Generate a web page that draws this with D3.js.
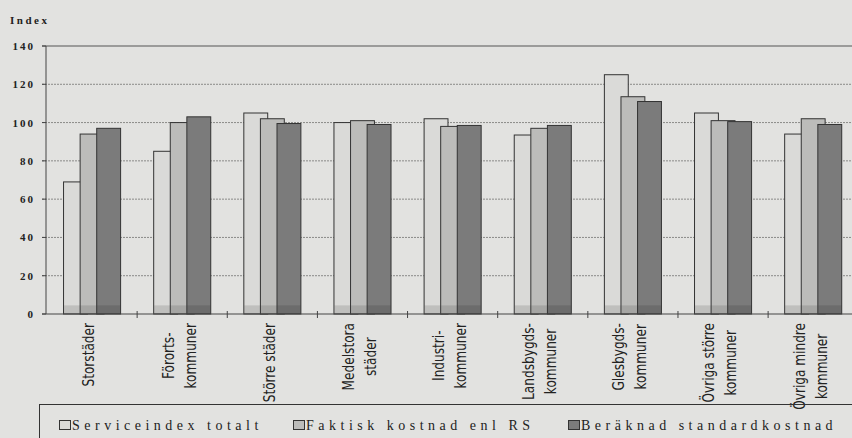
<!DOCTYPE html>
<html>
<head>
<meta charset="utf-8">
<script src="https://cdn.jsdelivr.net/npm/d3@7"></script>
<style>
  html, body { margin: 0; padding: 0; background: #e2e2e0; }
  svg { display: block; }
</style>
</head>
<body>
<div id="chart"></div>
<script>
// ---- data ----
const categories = [
  "Storstäder",
  "Förorts-\nkommuner",
  "Större städer",
  "Medelstora\nstäder",
  "Industri-\nkommuner",
  "Landsbygds-\nkommuner",
  "Glesbygds-\nkommuner",
  "Övriga större\nkommuner",
  "Övriga mindre\nkommuner"
];
const seriesNames = ["Serviceindex totalt", "Faktisk kostnad enl RS", "Beräknad standardkostnad"];
const serviceindexTotalt   = [69, 85, 105, 100, 102, 93.5, 125, 105, 94];
const faktiskKostnad       = [94, 100, 102, 101, 98, 97, 113.5, 101, 102];
const beraknadStandard     = [97, 103, 99.5, 99, 98.5, 98.5, 111, 100.5, 99];
const yTicks = [0, 20, 40, 60, 80, 100, 120, 140];
const yTitle = "Index";

// ---- layout / style ----
const W = 852, H = 438;
const fills = ["#dadad8", "#bcbcba", "#7b7b7b"];
const series = [serviceindexTotalt, faktiskKostnad, beraknadStandard];

const svg = d3.select("#chart").append("svg")
  .attr("width", W).attr("height", H)
  .attr("font-family", "'Liberation Serif', 'DejaVu Serif', serif");

svg.append("rect").attr("width", W).attr("height", H).attr("fill", "#e2e2e0");

const y = d3.scaleLinear().domain([0, 140]).range([314, 46]);
const x = d3.scaleBand().domain(categories).range([47, 47 + 9 * 90.14]).paddingInner(0).paddingOuter(0);

// gridlines
svg.append("g").selectAll("line").data(yTicks.filter(d => d > 0)).join("line")
  .attr("x1", 42).attr("x2", W)
  .attr("y1", d => y(d)).attr("y2", d => y(d))
  .attr("stroke", d => d === 140 ? "#555" : "#8a8a88")
  .attr("stroke-width", 1)
  .attr("stroke-dasharray", d => d === 140 ? null : "2,1");

// y tick labels
svg.append("g").selectAll("text").data(yTicks).join("text")
  .attr("x", 35).attr("y", d => y(d) + 4)
  .attr("text-anchor", "end")
  .attr("font-size", 11).attr("font-weight", "bold")
  .attr("letter-spacing", 2)
  .attr("fill", "#222")
  .text(d => d);

svg.append("text").attr("x", 10).attr("y", 24)
  .attr("font-size", 11).attr("font-weight", "bold").attr("letter-spacing", 2.5)
  .attr("fill", "#222").text(yTitle);

// bars
const bw = x.bandwidth() * 0.265;
const step = x.bandwidth() * 0.184;
const groupW = 2 * step + bw;
const baseBand = 4.5;

series.forEach((vals, si) => {
  const g = svg.append("g");
  g.selectAll("rect.bar").data(categories).join("rect")
    .attr("class", "bar")
    .attr("x", (c) => x(c) + x.bandwidth() / 2 - groupW / 2 + si * step)
    .attr("y", (c, i) => y(vals[i]))
    .attr("width", bw)
    .attr("height", (c, i) => y(0) - y(vals[i]))
    .attr("fill", fills[si])
    .attr("stroke", "#333")
    .attr("stroke-width", 1);
  g.selectAll("rect.base").data(categories).join("rect")
    .attr("class", "base")
    .attr("x", (c) => x(c) + x.bandwidth() / 2 - groupW / 2 + si * step + 0.5)
    .attr("y", y(baseBand))
    .attr("width", bw - 1)
    .attr("height", y(0) - y(baseBand))
    .attr("fill", "#000").attr("opacity", 0.12);
});

// axes lines
svg.append("line").attr("x1", 46).attr("x2", 46).attr("y1", y(140)).attr("y2", y(0))
  .attr("stroke", "#444");
svg.append("line").attr("x1", 42).attr("x2", W).attr("y1", y(0)).attr("y2", y(0))
  .attr("stroke", "#444");
svg.append("g").selectAll("line").data(yTicks).join("line")
  .attr("x1", 42).attr("x2", 46).attr("y1", d => y(d)).attr("y2", d => y(d))
  .attr("stroke", "#444");
svg.append("g").selectAll("line").data(categories.slice(1)).join("line")
  .attr("x1", d => x(d)).attr("x2", d => x(d))
  .attr("y1", y(0) - 3).attr("y2", y(0) + 4)
  .attr("stroke", "#444");

// category labels (rotated)
const labelTop = 323, lineGap = 22, sx = 0.9;
categories.forEach(c => {
  const lines = c.split("\n");
  const g = svg.append("g")
    .attr("transform", `translate(${x(c) + x.bandwidth() / 2 - 3},${labelTop}) rotate(-90) scale(${sx},1)`)
    .attr("font-family", "'Liberation Sans Narrow', 'DejaVu Sans Condensed', sans-serif")
    .attr("font-size", 15).attr("fill", "#222");
  const ts = lines.map((ln, i) => g.append("text")
    .attr("y", (i - (lines.length - 1) / 2) * lineGap)
    .attr("dy", "0.36em")
    .attr("text-anchor", "middle")
    .text(ln));
  const maxLen = d3.max(ts, t => t.node().getComputedTextLength());
  ts.forEach(t => t.attr("x", -maxLen / 2));
});

// legend
svg.append("rect").attr("x", 39.5).attr("y", 404.5).attr("width", 900).attr("height", 80)
  .attr("fill", "none").attr("stroke", "#333").attr("stroke-width", 1);
const legendX = [59, 293, 568];
seriesNames.forEach((name, i) => {
  svg.append("rect").attr("x", legendX[i] + 0.5).attr("y", 420.5).attr("width", 11).attr("height", 9)
    .attr("fill", fills[i]).attr("stroke", "#333");
  svg.append("text").attr("x", legendX[i] + 13).attr("y", 430)
    .attr("font-size", 14).attr("letter-spacing", 4.5).attr("fill", "#222")
    .text(name);
});
</script>
</body>
</html>
